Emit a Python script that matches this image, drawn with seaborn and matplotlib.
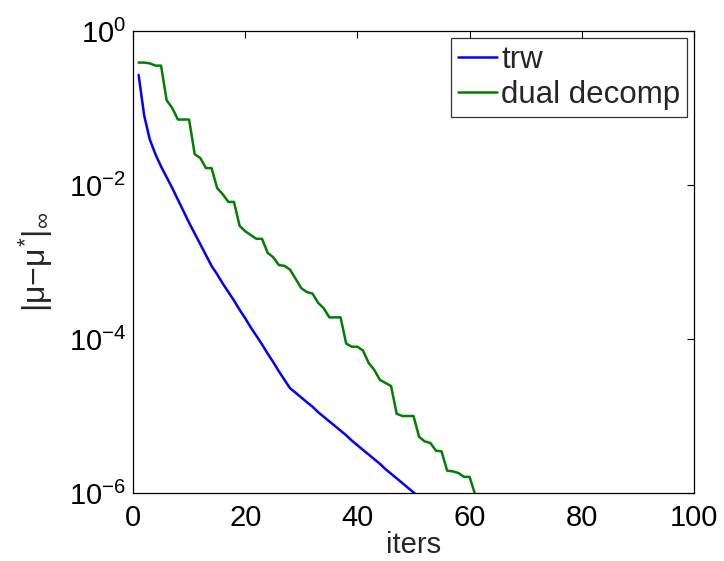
import matplotlib
matplotlib.use("Agg")
import matplotlib.pyplot as plt
import seaborn as sns
import pandas as pd
from matplotlib.ticker import FixedLocator, LogFormatterSciNotation, NullLocator

# ---- data ----
trw_iters = list(range(1, 52))
trw_vals = [0.269, 0.0794, 0.0389, 0.0251, 0.0174, 0.0126, 0.00912, 0.00646, 0.00457, 0.00324,
            0.00234, 0.00170, 0.00123, 8.91e-4, 6.92e-4, 5.25e-4, 4.07e-4, 3.16e-4, 2.40e-4, 1.86e-4,
            1.41e-4, 1.10e-4, 8.51e-5, 6.46e-5, 5.01e-5, 3.80e-5, 2.95e-5, 2.29e-5, 2.00e-5, 1.74e-5,
            1.51e-5, 1.32e-5, 1.12e-5, 9.77e-6, 8.51e-6, 7.41e-6, 6.46e-6, 5.62e-6, 4.79e-6, 4.17e-6,
            3.63e-6, 3.16e-6, 2.75e-6, 2.40e-6, 2.04e-6, 1.78e-6, 1.55e-6, 1.35e-6, 1.17e-6, 1.02e-6,
            8.7e-7]

dd_iters = list(range(1, 62))
dd_vals = [0.389, 0.389, 0.380, 0.355, 0.355, 0.126, 0.100, 0.0708, 0.0708, 0.0708,
           0.0251, 0.0224, 0.0166, 0.0166, 0.00912, 0.00759, 0.00603, 0.00603, 0.00295, 0.00251,
           0.00224, 0.00200, 0.00200, 0.00132, 0.00115, 9.12e-4, 8.91e-4, 7.94e-4, 6.03e-4, 4.57e-4,
           4.07e-4, 3.89e-4, 2.95e-4, 2.51e-4, 1.91e-4, 1.91e-4, 1.91e-4, 8.71e-5, 7.94e-5, 7.94e-5,
           7.08e-5, 4.90e-5, 3.98e-5, 2.95e-5, 2.69e-5, 2.45e-5, 1.07e-5, 1.00e-5, 1.00e-5, 1.00e-5,
           5.37e-6, 4.68e-6, 4.47e-6, 3.55e-6, 3.47e-6, 1.95e-6, 1.91e-6, 1.82e-6, 1.62e-6, 1.62e-6,
           9.5e-7]

series_names = ["trw", "dual decomp"]
series_colors = ["#0000ff", "#008000"]
x_ticks = [0, 20, 40, 60, 80, 100]
y_ticks = [1e-6, 1e-4, 1e-2, 1e0]

df = pd.concat([
    pd.DataFrame({"iters": trw_iters, "val": trw_vals, "method": series_names[0]}),
    pd.DataFrame({"iters": dd_iters, "val": dd_vals, "method": series_names[1]}),
])

sns.set_style("white")
plt.rcParams["font.family"] = ["Liberation Sans", "DejaVu Sans"]
plt.rcParams["mathtext.fontset"] = "custom"
plt.rcParams["mathtext.rm"] = "Liberation Sans"
plt.rcParams["mathtext.it"] = "Liberation Sans"
plt.rcParams["mathtext.bf"] = "Liberation Sans:bold"
plt.rcParams["mathtext.sf"] = "Liberation Sans"

fig = plt.figure(figsize=(7.24, 5.61), dpi=100)
ax = fig.add_axes([133 / 724, 1 - 493 / 561, (694 - 133) / 724, (493 - 31) / 561])

sns.lineplot(data=df, x="iters", y="val", hue="method", hue_order=series_names,
             palette=series_colors, linewidth=1.8, ax=ax, estimator=None, sort=False)

ax.set_yscale("log")
ax.set_xlim(0, 100)
ax.set_ylim(1e-6, 1e0)
ax.xaxis.set_major_locator(FixedLocator(x_ticks))
ax.yaxis.set_major_locator(FixedLocator(y_ticks))
ax.yaxis.set_minor_locator(NullLocator())
ax.yaxis.set_major_formatter(LogFormatterSciNotation())

for s in ax.spines.values():
    s.set_visible(True)
    s.set_color("black")
    s.set_linewidth(0.9)

ax.tick_params(axis="both", which="major", direction="in", length=5, width=0.8,
               top=True, right=True, labelsize=21, colors="black")
ax.tick_params(axis="x", pad=8)
ax.tick_params(axis="y", pad=5)

ax.set_xlabel("iters", fontsize=21, labelpad=-1)
ax.set_ylabel(r"$|\mu\mathrm{-}\mu^{*}|_{\infty}$", fontsize=23, labelpad=10)

leg = ax.legend(loc="upper right", fontsize=22.5, frameon=True, fancybox=False,
                handlelength=1.25, handletextpad=0.12, borderaxespad=0.22,
                borderpad=0.22, labelspacing=0.18, edgecolor="black")
leg.get_frame().set_linewidth(0.9)
for line in leg.get_lines():
    line.set_linewidth(1.8)

fig.savefig("out.png", dpi=100)
